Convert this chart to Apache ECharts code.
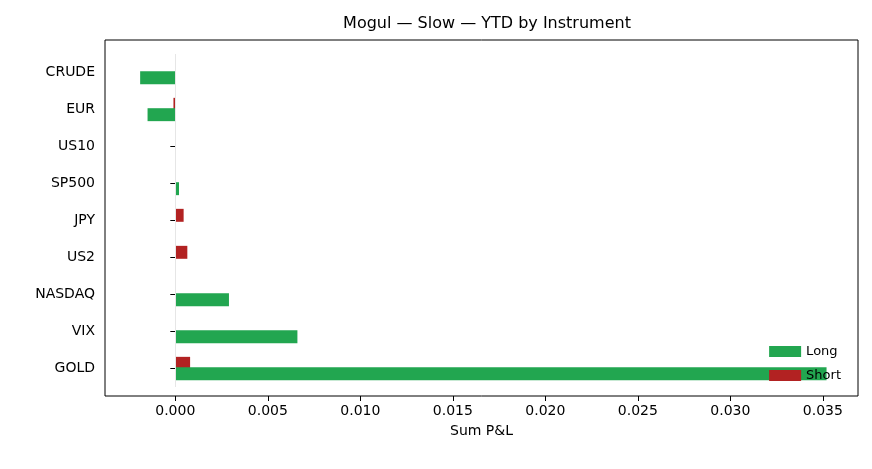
<!DOCTYPE html>
<html>
<head>
<meta charset="utf-8">
<script src="https://cdn.jsdelivr.net/npm/echarts@6/dist/echarts.min.js"></script>
<style>html,body{margin:0;padding:0;background:#fff}#main{width:872px;height:469px}</style>
</head>
<body>
<div id="main"></div>
<script>
// 品种列表（从上到下）
var instruments = ['CRUDE', 'EUR', 'US10', 'SP500', 'JPY', 'US2', 'NASDAQ', 'VIX', 'GOLD']
var longPnl = [-0.0019, -0.0015, 0, 0.0002, 0, 0, 0.0029, 0.0066, 0.0352]
var shortPnl = [0, -0.0001, 0, 0, 0.00045, 0.00065, 0, 0, 0.0008]
var xTicks = [0, 0.005, 0.01, 0.015, 0.02, 0.025, 0.03, 0.035]

var chart = echarts.init(document.getElementById('main'))
var font = 'DejaVu Sans'

var option = {
  animation: false,
  textStyle: { fontFamily: font },
  title: {
    text: 'Mogul — Slow — YTD by Instrument',
    left: 482, top: 11, textAlign: 'center',
    textStyle: { fontSize: 16, fontWeight: 'normal', color: '#000', fontFamily: font }
  },
  legend: {
    orient: 'vertical', right: 26, top: 340,
    icon: 'rect',
    itemWidth: 32, itemHeight: 11, itemGap: 11,
    textStyle: { fontSize: 13, color: '#000' },
    data: ['Long', 'Short']
  },
  // 外框单独画
  graphic: [{
    type: 'rect', silent: true, z: 10,
    shape: { x: 105, y: 40, width: 753, height: 356 },
    style: { fill: 'none', stroke: '#000', lineWidth: 1 }
  }],
  grid: { left: 105, right: 14, top: 54, bottom: 82 },
  xAxis: {
    type: 'value', min: -0.0038, max: 0.0369, offset: 9,
    name: 'Sum P&L', nameLocation: 'middle', nameGap: 28,
    nameTextStyle: { fontSize: 14, color: '#000' },
    axisLine: { show: false },
    splitLine: { show: false },
    axisLabel: {
      fontSize: 14, color: '#000', margin: 8,
      customValues: xTicks,
      formatter: function (v) { return v.toFixed(3) }
    },
    axisTick: { show: true, customValues: xTicks, length: 5, lineStyle: { color: '#000' } }
  },
  yAxis: {
    type: 'category', data: instruments, inverse: true,
    axisLine: { show: false },
    axisTick: { show: true, length: 5, alignWithLabel: true, lineStyle: { color: '#000' } },
    axisLabel: { fontSize: 14, color: '#000', margin: 10 }
  },
  series: [
    {
      name: 'Short', type: 'bar', data: shortPnl, barWidth: '35%', barGap: '-20%',
      itemStyle: { color: '#b22222' },
      markLine: {
        silent: true, symbol: 'none', label: { show: false },
        lineStyle: { color: '#e6e6e6', type: 'solid', width: 1 },
        data: [{ xAxis: 0 }]
      }
    },
    {
      name: 'Long', type: 'bar', data: longPnl, barWidth: '35%', barGap: '-20%',
      itemStyle: { color: '#22a650' }
    }
  ]
}
chart.setOption(option)
</script>
</body>
</html>
